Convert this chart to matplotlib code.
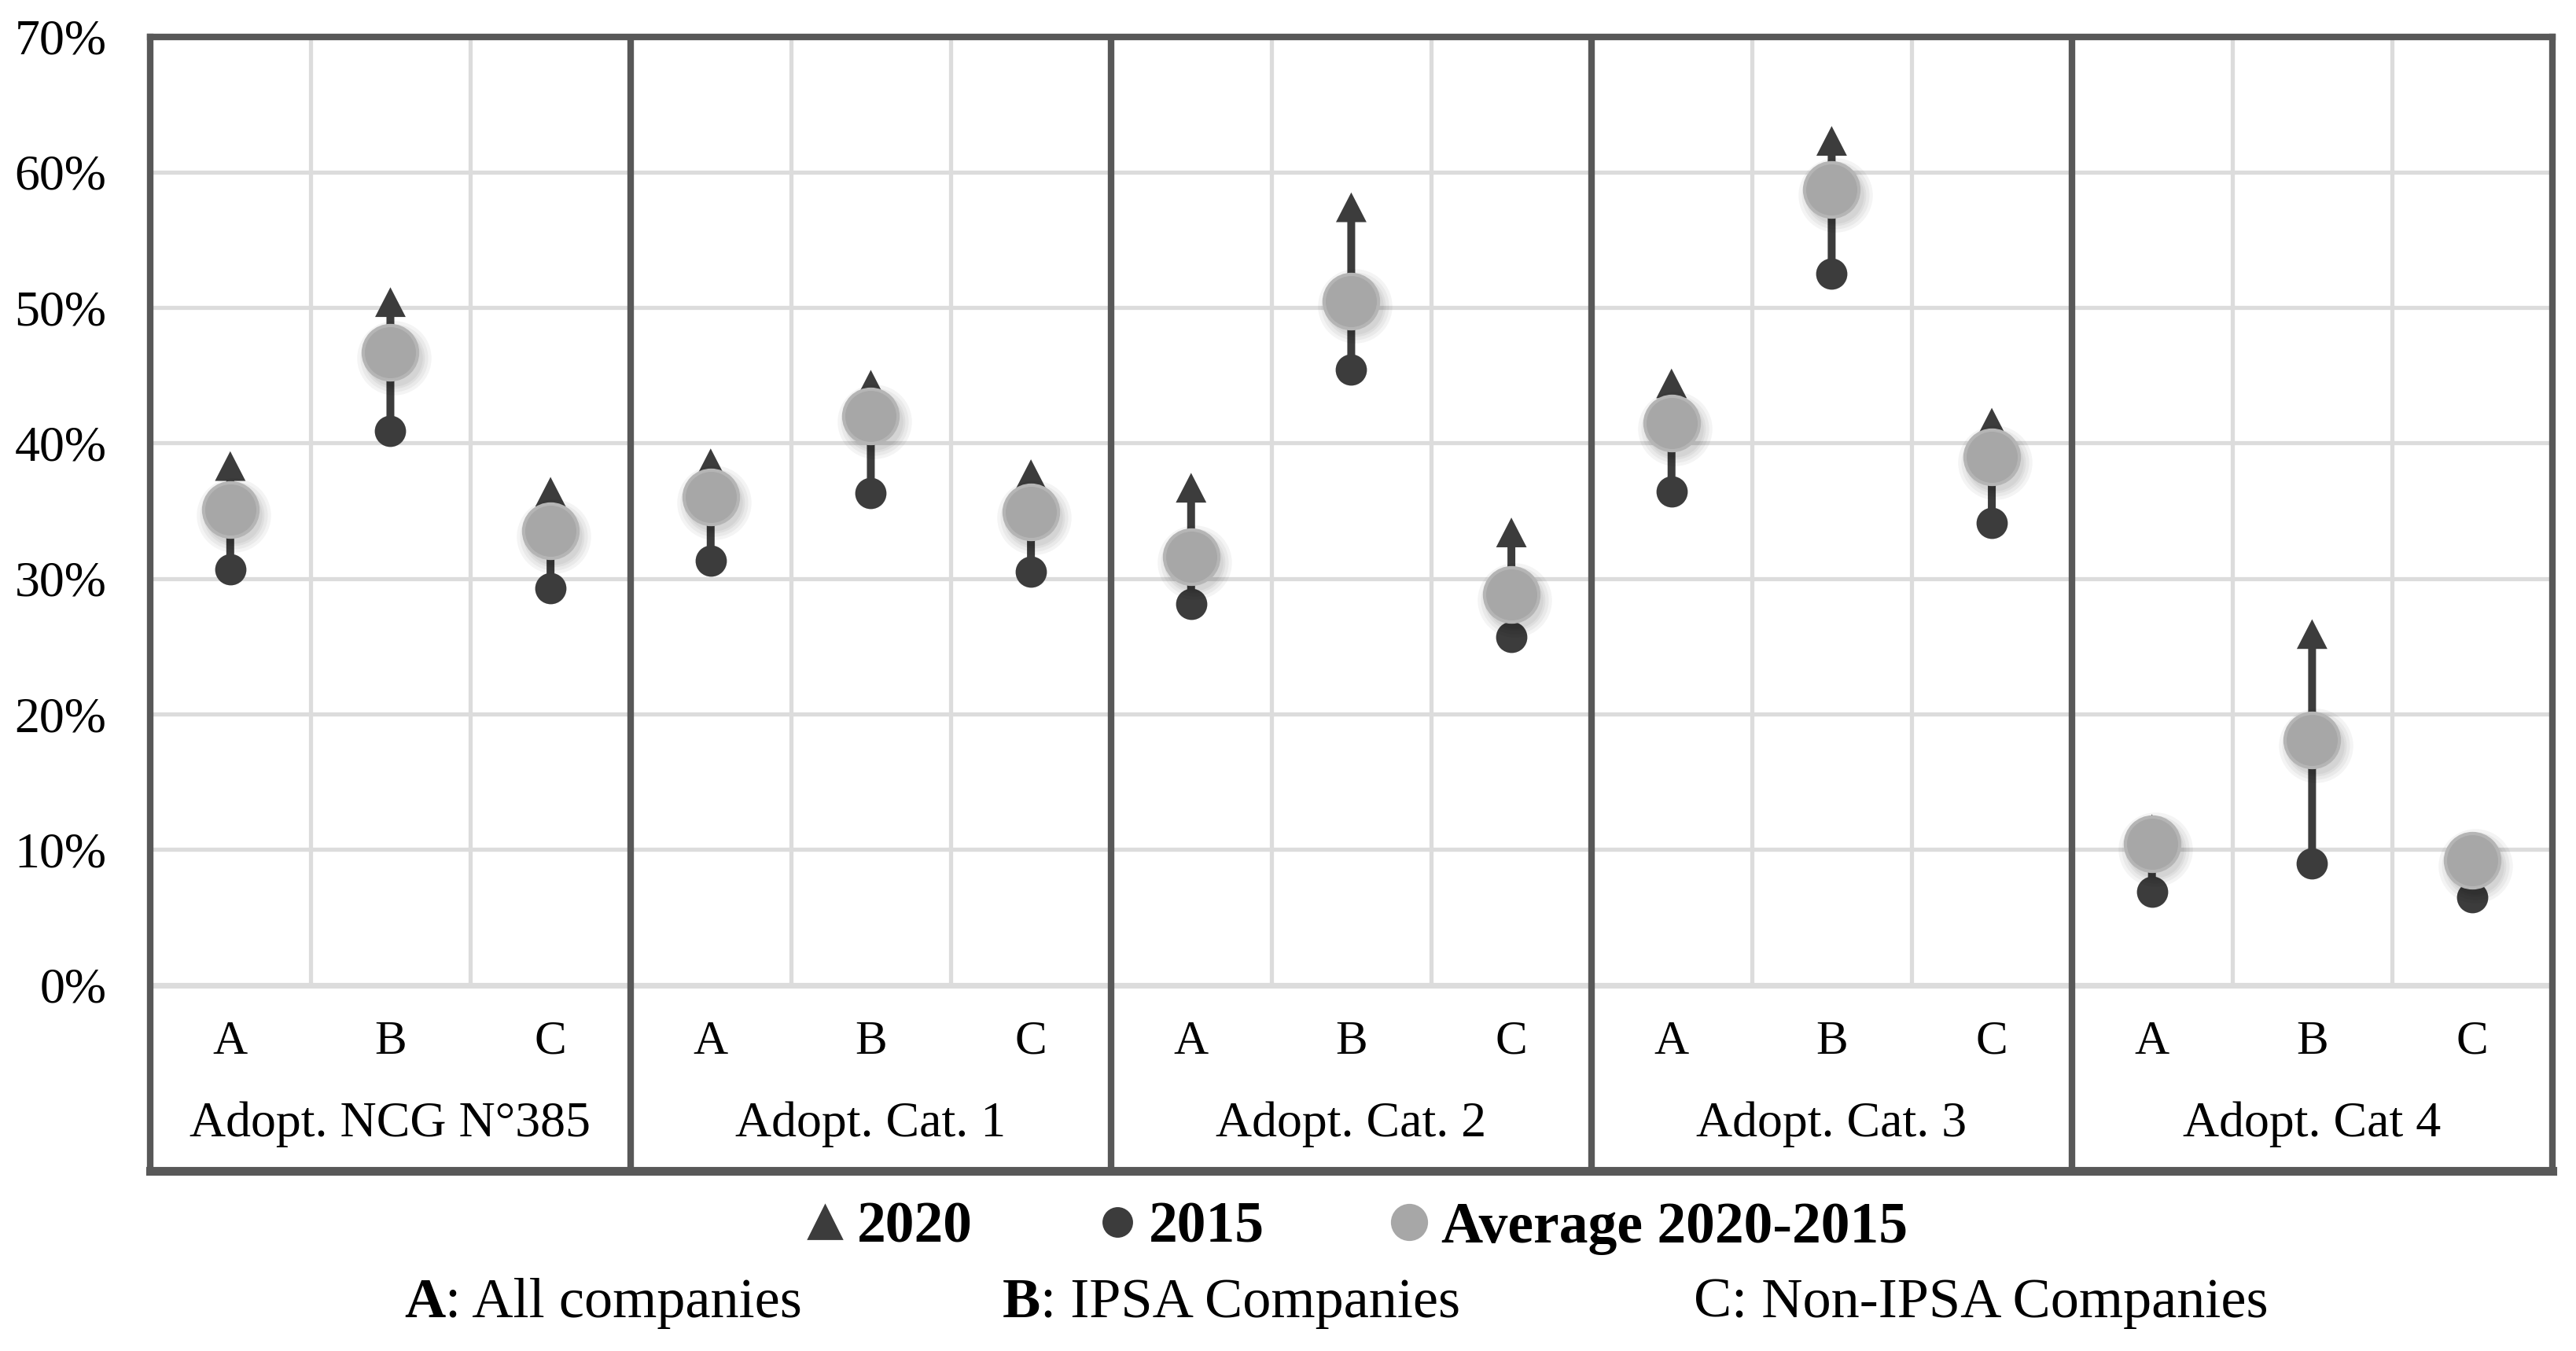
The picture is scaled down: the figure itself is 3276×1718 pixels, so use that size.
import matplotlib
matplotlib.use("Agg")
import matplotlib.pyplot as plt
import matplotlib.transforms as mtransforms
from matplotlib.lines import Line2D

plt.rcParams["font.family"] = ["Liberation Serif", "DejaVu Serif"]

# ---- data (percent) ----
panels = ["Adopt. NCG N°385", "Adopt. Cat. 1", "Adopt. Cat. 2", "Adopt. Cat. 3", "Adopt. Cat 4"]
groups = ["A", "B", "C"]
values_2020 = [39.4, 51.5, 37.5, 39.6, 45.4, 38.8, 37.8, 58.5, 34.5, 45.5, 63.4, 42.6, 12.6, 27.0, 10.9]
values_2015 = [30.7, 40.9, 29.3, 31.3, 36.3, 30.5, 28.1, 45.4, 25.7, 36.4, 52.5, 34.1, 6.9, 9.0, 6.5]
values_avg = [35.1, 46.7, 33.5, 36.0, 42.0, 34.9, 31.6, 50.5, 28.8, 41.5, 58.7, 39.0, 10.4, 18.1, 9.2]
y_ticks = [0, 10, 20, 30, 40, 50, 60, 70]
legend_labels = ["2020", "2015", "Average 2020-2015"]
footnotes = [("A", ": All companies", True), ("B", ": IPSA Companies", True), ("C", ": Non-IPSA Companies", False)]

DARK = "#3c3c3c"
AVG = "#a7a7a7"
GRID = "#dcdcdc"
FRAME = "#585858"


def main() -> None:
    fig = plt.figure(figsize=(16.38, 8.59), dpi=200)
    ax = fig.add_axes([0.0583, 0.1333, 0.9325, 0.8396])
    n = len(panels) * len(groups)
    ax.set_xlim(0, n)
    ax.set_ylim(-13.72, 70)

    # grid inside the plotting zone
    ax.hlines(y_ticks[1:-1], 0, n, color=GRID, lw=1.9, zorder=1)
    ax.hlines([0], 0, n, color=GRID, lw=2.6, zorder=1)
    inner = [i for i in range(1, n) if i % 3 != 0]
    ax.vlines(inner, 0, 70, color=GRID, lw=1.9, zorder=1)
    ax.vlines([3, 6, 9, 12], -13.72, 70, color=FRAME, lw=3.0, zorder=6)

    for side in ["left", "right", "top"]:
        ax.spines[side].set_color(FRAME)
        ax.spines[side].set_linewidth(3.0)
    ax.spines["bottom"].set_color(FRAME)
    ax.spines["bottom"].set_linewidth(4.0)

    ax.set_xticks([])
    ax.set_yticks(y_ticks)
    ax.set_yticklabels([f"{v}%" for v in y_ticks], fontsize=23)
    ax.tick_params(axis="y", length=0, pad=20)

    xs = [i + 0.5 for i in range(n)]

    # arrows 2015 -> 2020
    for x, v15, v20 in zip(xs, values_2015, values_2020):
        ax.annotate(
            "", xy=(x, v20), xytext=(x, v15),
            arrowprops=dict(arrowstyle="simple,head_length=0.68,head_width=0.7,tail_width=0.18",
                            fc=DARK, ec="none", lw=0, shrinkA=0, shrinkB=0, mutation_scale=20),
            zorder=3,
        )
    ax.scatter(xs, values_2015, s=205, color=DARK, zorder=4, linewidths=0)

    # soft shadow under average markers
    shadow = mtransforms.offset_copy(ax.transData, fig=fig, x=1.5, y=-2.5, units="points")
    for d in [34, 31, 28, 26]:
        ax.scatter(xs, values_avg, s=d ** 2, color="black", alpha=0.045, linewidths=0,
                   transform=shadow, zorder=4.5)
    ax.scatter(xs, values_avg, s=620, color=AVG, edgecolors="#b5b5b5", linewidths=1.5, zorder=5)

    # group letters and panel titles
    for i, x in enumerate(xs):
        ax.text(x, -4.2, groups[i % 3], ha="center", va="center", fontsize=22)
    for p, title in enumerate(panels):
        ax.text(p * 3 + 1.5, -10.3, title, ha="center", va="center", fontsize=23)

    # legend
    handles = [
        Line2D([], [], marker="^", ls="none", color=DARK, markersize=15),
        Line2D([], [], marker="o", ls="none", color=DARK, markersize=13),
        Line2D([], [], marker="o", ls="none", color=AVG, markersize=16),
    ]
    fig.legend(handles, legend_labels, loc="center", bbox_to_anchor=(0.527, 0.091), ncol=3,
               frameon=False, prop={"weight": "bold", "size": 26.5}, handlelength=0.6,
               handletextpad=0.25, columnspacing=2.2)

    # footnote with bold letters
    renderer = fig.canvas.get_renderer()
    starts = [514, 1275, 2154]
    for (letter, rest, bold), x0 in zip(footnotes, starts):
        t = fig.text(x0 / 3276, 0.0355, letter, fontsize=26, va="center",
                     weight="bold" if bold else "normal")
        bb = t.get_window_extent(renderer)
        fig.text(bb.x1 / fig.bbox.width, 0.0355, rest, fontsize=26, va="center")

    fig.savefig("out.png", dpi=200)


if __name__ == "__main__":
    main()
